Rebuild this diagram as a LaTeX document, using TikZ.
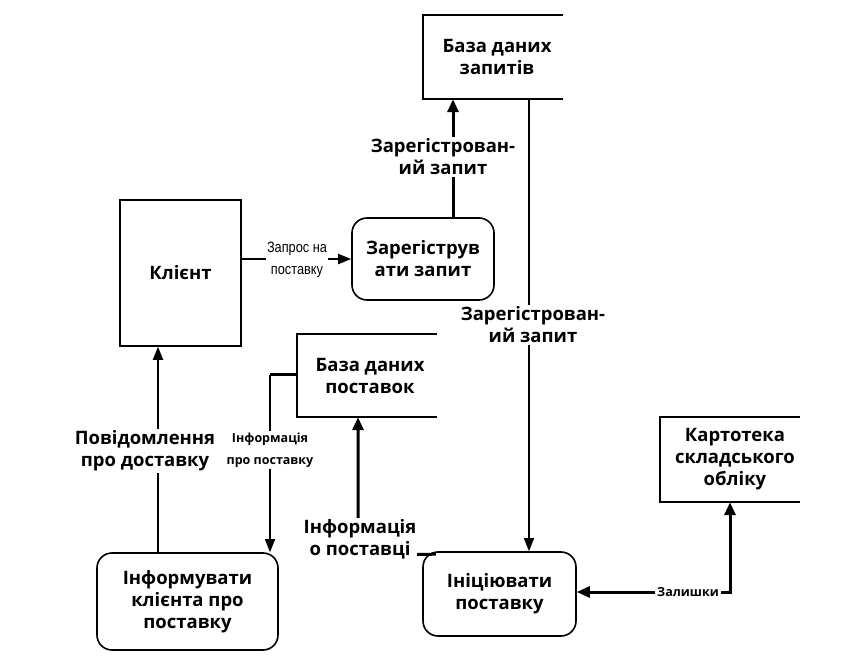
\documentclass[tikz,border=0pt]{standalone}
\usepackage{fontspec}
\setmainfont{Open Sans}
\newfontfamily\narrowfont{Liberation Sans}
\usetikzlibrary{arrows.meta}
\newcommand{\sh}[1]{\hspace*{#1}}
\begin{document}
\begin{tikzpicture}[x=1pt,y=-1pt,
  every node/.style={font=\bfseries\fontsize{18.5}{22}\selectfont, align=center, inner sep=0pt},
  proc/.style={draw, line width=1.6pt, rounded corners=15pt},
  lbl/.style={fill=white, inner sep=2pt},
  smalllbl/.style={fill=white, inner sep=2pt, font=\bfseries\fontsize{12.5}{22}\selectfont},
  flow/.style={line width=2pt, -{Triangle[length=13pt,width=10pt]}},
  thickflow/.style={line width=3pt, -{Triangle[length=13pt,width=11pt]}},
  thinflow/.style={line width=1.5pt, -{Triangle[length=13pt,width=10pt]}}
]
\useasboundingbox (0,0) rectangle (841,660);
% nodes
\node[draw, line width=1.6pt, minimum width=121pt, minimum height=146pt] (client) at (180.5,273) {Клієнт};
\node[proc, minimum width=142pt, minimum height=82pt] (reg) at (423,259) {Зарегіструв\\ати запит};
\node[minimum width=140pt, minimum height=84pt] (dbq) at (493,57) {\sh{8pt}База даних\\\sh{8pt}запитів};
\node[minimum width=140pt, minimum height=83pt] (dbs) at (367,375.5) {\sh{6pt}База даних\\\sh{6pt}поставок};
\node[minimum width=140pt, minimum height=85pt] (kart) at (730,459.5) {\sh{10pt}Картотека\\\sh{10pt}складського\\\sh{10pt}обліку};
\node[proc, minimum width=181pt, minimum height=97pt] (inf) at (187.5,601.5) {Інформувати\\клієнта про\\поставку};
\node[proc, minimum width=153pt, minimum height=84pt] (inic) at (499.5,594) {Ініціювати\\поставку};
% stores (open right side)
\foreach \s in {dbq,dbs,kart}
  \draw[line width=2pt] (\s.north east) -- (\s.north west) -- (\s.south west) -- (\s.south east);
% coordinates
\coordinate (c1) at (270,375);
\coordinate (c2) at (358,555);
\coordinate (c3) at (730,592);
% flows
\draw[thickflow] (reg.north -| 453,0) -- (dbq.south -| 453,0);
\draw[thinflow] (dbq.south -| 529,0) -- (inic.north -| 529,0);
\draw[flow] (client.east |- 0,259) -- (reg.west |- 0,259);
\draw[flow] (inf.north -| 158,0) -- (client.south -| 158,0);
\draw[line width=3pt] (dbs.west |- c1) -- (c1);
\draw[thinflow] (c1) -- (inf.north -| c1);
\draw[thickflow] ([xshift=14pt,yshift=-3pt]inic.north west) -- (c2) -- (dbs.south -| c2);
\draw[line width=3pt, {Triangle[length=13pt,width=11pt]}-{Triangle[length=13pt,width=11pt]}] (inic.east |- c3) -- (c3) -- (kart.south -| c3);
% labels
\node[lbl] (l1) at (443,157) {Зарегістрован-\\ий запит};
\node[lbl] (l2) at (533,325) {Зарегістрован-\\ий запит};
\node[fill=white, inner sep=1pt, font=\narrowfont\fontsize{15}{22}\selectfont] (l3) at (297,260) {\scalebox{0.85}[1]{Запрос на}\\\scalebox{0.85}[1]{поставку}};
\node[lbl] (l4) at (145,451) {Повідомлення\\про доставку};
\node[smalllbl] (l5) at (270,450) {Інформація\\про поставку};
\node[lbl, inner sep=1pt] (l6) at (360,539) {Інформація\\о поставці};
\node[smalllbl] (l7) at (688,592) {Залишки};
\end{tikzpicture}
\end{document}
